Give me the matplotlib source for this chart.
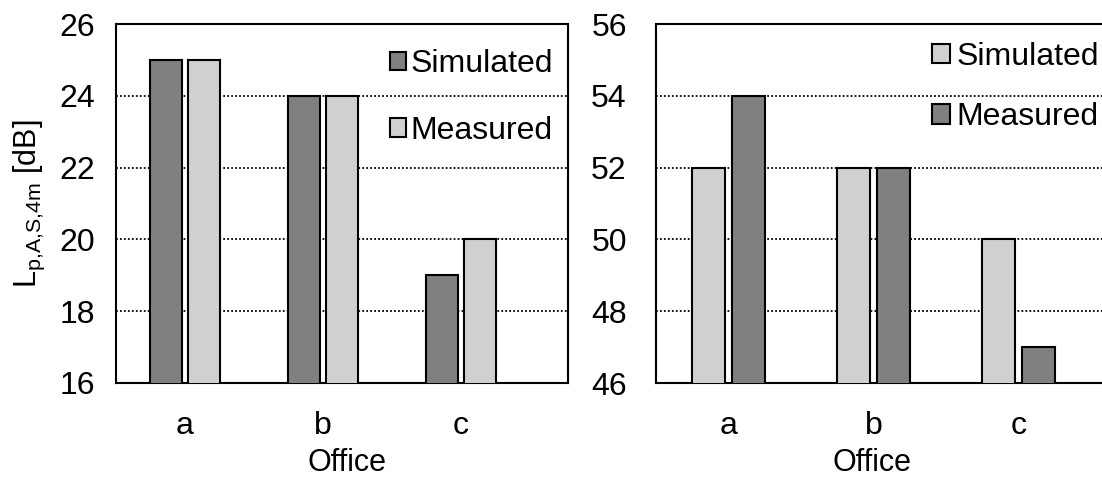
import matplotlib
matplotlib.use("Agg")
import matplotlib.pyplot as plt
import numpy as np

plt.rcParams['font.family'] = ['Liberation Sans', 'DejaVu Sans']
plt.rcParams['mathtext.fontset'] = 'custom'
plt.rcParams['mathtext.rm'] = 'Liberation Sans'
plt.rcParams['mathtext.it'] = 'Liberation Sans'

categories = ['a', 'b', 'c']
left_simulated = [25, 24, 19]
left_measured = [25, 24, 20]
right_simulated = [52, 52, 50]
right_measured = [54, 52, 47]
left_yticks = [16, 18, 20, 22, 24, 26]
right_yticks = [46, 48, 50, 52, 54, 56]

DARK = '#808080'
LIGHT = '#d0d0d0'
FS = 23

fig = plt.figure(figsize=(11.02, 4.79), dpi=100)
ax1 = fig.add_axes([116/1102, 1-383/479, (568-116)/1102, (383-24)/479])
ax2 = fig.add_axes([656/1102, 1-383/479, (1102-656)/1102, (383-24)/479])

x = np.arange(len(categories))
w = 0.23
off = 0.14

def style(ax, yticks, xmax, ypad, xlabel_x):
    ax.set_ylim(yticks[0], yticks[-1])
    ax.set_yticks(yticks)
    ax.set_xlim(-0.5, xmax)
    ax.set_xticks(x)
    ax.set_xticklabels(categories)
    ax.tick_params(axis='both', length=0, labelsize=FS)
    ax.tick_params(axis='y', pad=ypad)
    ax.tick_params(axis='x', pad=20)
    for yv in yticks[1:-1]:
        ax.axhline(yv, color='black', linestyle=(0, (1, 1.2)), linewidth=1.3, zorder=1)
    for s in ax.spines.values():
        s.set_linewidth(1.5)
    ax.set_xlabel('Office', fontsize=22, labelpad=5)
    ax.xaxis.label.set_x(xlabel_x)

# Left chart
ax1.bar(x - off, left_simulated, w, color=DARK, edgecolor='black', linewidth=1.5, zorder=3, label='Simulated')
ax1.bar(x + off, left_measured, w, color=LIGHT, edgecolor='black', linewidth=1.5, zorder=3, label='Measured')
style(ax1, left_yticks, (568-116)/138 - 0.5, 15, 0.511)
ax1.set_ylabel(r'L$_{\mathregular{p{,}A{,}S{,}4m}}$ [dB]', fontsize=22, labelpad=9)
ax1.legend(loc='upper left', bbox_to_anchor=(0.606, 0.93), frameon=False, fontsize=FS,
           handlelength=0.5, handleheight=0.5, handletextpad=0.15, labelspacing=1.15,
           borderpad=0, borderaxespad=0)

# Right chart
ax2.bar(x - off, right_simulated, w, color=LIGHT, edgecolor='black', linewidth=1.5, zorder=3, label='Simulated')
ax2.bar(x + off, right_measured, w, color=DARK, edgecolor='black', linewidth=1.5, zorder=3, label='Measured')
style(ax2, right_yticks, (1102-656)/145 - 0.5, 21, 0.484)
ax2.spines['right'].set_visible(False)
ax2.legend(loc='upper left', bbox_to_anchor=(0.619, 0.95), frameon=False, fontsize=FS,
           handlelength=0.55, handleheight=0.55, handletextpad=0.2, labelspacing=0.95,
           borderpad=0, borderaxespad=0)

fig.savefig('out.png', dpi=100)
